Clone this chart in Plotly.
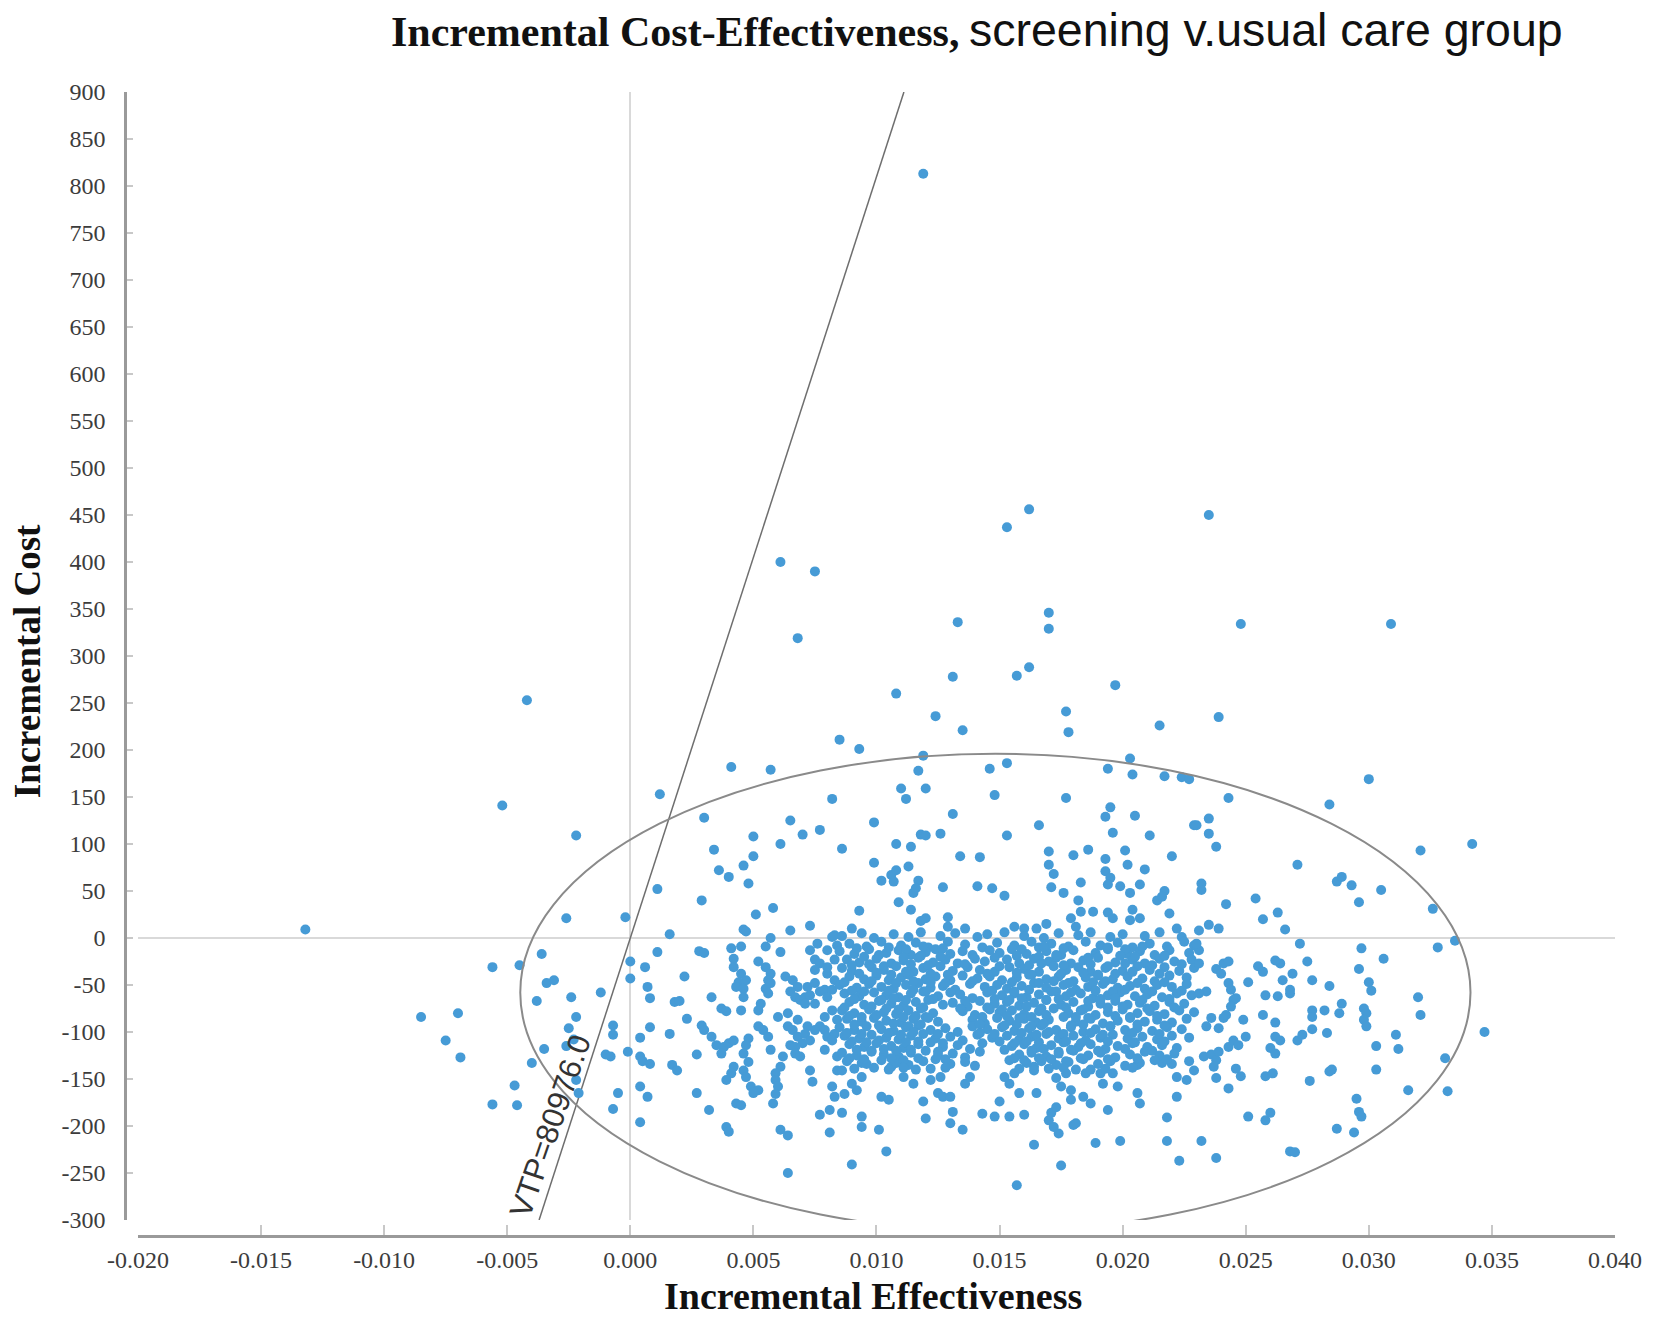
import plotly.graph_objects as go

# ---------------- data ----------------
wtp = 80976.0

x_tick_vals = [-0.020, -0.015, -0.010, -0.005, 0.000, 0.005, 0.010, 0.015, 0.020, 0.025, 0.030, 0.035, 0.040]
x_tick_text = ["-0.020", "-0.015", "-0.010", "-0.005", "0.000", "0.005", "0.010", "0.015", "0.020", "0.025", "0.030", "0.035", "0.040"]
y_tick_vals = list(range(-300, 901, 50))
y_tick_text = [str(v) for v in y_tick_vals]

upper_pts = [(0.0119, 813), (0.0061, 400), (0.0075, 390), (0.0068, 319), (0.0153, 437), (0.0162, 456),
             (0.0235, 450), (0.0170, 346), (0.0170, 329), (0.0133, 336), (0.0248, 334), (0.0309, 334),
             (0.0131, 278), (0.0157, 279), (0.0162, 288)]

left_pts = [(-0.0132, 9), (-0.0085, -84), (-0.0075, -109), (-0.0070, -80), (-0.0069, -127)]

zone_a_pos = [(-0.0042, 253), (-0.0052, 141), (-0.0022, 109), (0.0012, 153), (0.0041, 182), (0.0057, 179),
              (0.0082, 148), (0.0085, 211), (0.0030, 128), (0.0065, 125), (0.0070, 110), (0.0077, 115),
              (0.0050, 108), (0.0061, 100), (0.0034, 94), (0.0050, 87), (0.0046, 77), (0.0036, 72),
              (0.0040, 65), (0.0048, 58), (0.0011, 52), (0.0029, 40), (0.0051, 25), (0.0058, 32),
              (-0.0026, 21), (-0.0002, 22), (0.0046, 9), (0.0073, 13), (0.0065, 8), (0.0016, 4), (0.0083, 3)]

zone_a_neg_left = [(-0.0056, -31), (-0.0045, -29), (-0.0036, -17), (-0.0034, -48), (-0.0031, -45), (-0.0038, -67),
                   (-0.0024, -63), (-0.0012, -58), (-0.0022, -84), (-0.0025, -96), (-0.0035, -118), (-0.0040, -133),
                   (-0.0026, -115), (-0.0023, -108), (-0.0022, -151), (-0.0021, -165), (-0.0047, -157), (-0.0056, -177),
                   (-0.0046, -178), (-0.0007, -93), (-0.0007, -103), (-0.0010, -124), (-0.0008, -126), (-0.0005, -165),
                   (-0.0007, -182), (0.0000, -25), (0.0000, -43), (0.0006, -31), (0.0007, -52), (0.0008, -64),
                   (0.0011, -15), (0.0008, -95), (0.0004, -106), (-0.0001, -121), (0.0004, -126), (0.0005, -131),
                   (0.0008, -134), (0.0004, -158), (0.0007, -169), (0.0004, -196), (0.0016, -102), (0.0017, -135),
                   (0.0019, -141), (0.0022, -41), (0.0018, -68), (0.0020, -67), (0.0023, -86), (0.0027, -165),
                   (0.0027, -124), (0.0032, -183)]

zone_a_neg_right = [(0.0047, 7), (0.0057, 0), (0.0055, -9), (0.0041, -11), (0.0045, -9), (0.0061, -15), (0.0073, -13),
                    (0.0076, -6), (0.0080, -13), (0.0028, -14), (0.0030, -16), (0.0082, 1), (0.0084, -8), (0.0042, -22),
                    (0.0052, -25), (0.0055, -31), (0.0075, -23), (0.0077, -27), (0.0080, -31), (0.0083, -23),
                    (0.0042, -31), (0.0045, -38), (0.0057, -38), (0.0047, -45), (0.0044, -47), (0.0056, -45),
                    (0.0063, -41), (0.0066, -45), (0.0068, -52), (0.0072, -52), (0.0075, -48), (0.0075, -34),
                    (0.0080, -38), (0.0055, -54), (0.0057, -48), (0.0043, -52), (0.0046, -54), (0.0065, -57),
                    (0.0077, -57), (0.0079, -55), (0.0082, -55), (0.0083, -45), (0.0033, -63), (0.0046, -63),
                    (0.0056, -59), (0.0067, -63), (0.0071, -63), (0.0073, -61), (0.0053, -70), (0.0052, -77),
                    (0.0069, -66), (0.0071, -70), (0.0075, -70), (0.0080, -63), (0.0037, -75), (0.0039, -78),
                    (0.0045, -77), (0.0082, -77), (0.0064, -80), (0.0060, -84), (0.0079, -84), (0.0029, -93),
                    (0.0052, -94), (0.0054, -98), (0.0064, -94), (0.0066, -98), (0.0068, -87), (0.0072, -94),
                    (0.0077, -94), (0.0084, -87), (0.0030, -98), (0.0033, -105), (0.0056, -105), (0.0068, -105),
                    (0.0070, -112), (0.0071, -102), (0.0073, -109), (0.0075, -98), (0.0079, -98), (0.0080, -105),
                    (0.0083, -102), (0.0035, -114), (0.0038, -116), (0.0040, -112), (0.0042, -109), (0.0048, -107),
                    (0.0047, -114), (0.0065, -114), (0.0067, -116), (0.0082, -109), (0.0057, -119), (0.0037, -123),
                    (0.0046, -123), (0.0062, -126), (0.0067, -123), (0.0069, -126), (0.0079, -119), (0.0084, -126),
                    (0.0061, -137), (0.0042, -137), (0.0048, -132), (0.0059, -144), (0.0041, -144), (0.0046, -141),
                    (0.0073, -141), (0.0084, -141), (0.0039, -151), (0.0047, -148), (0.0059, -151), (0.0049, -158),
                    (0.0052, -162), (0.0050, -165), (0.0060, -158), (0.0059, -166), (0.0074, -153), (0.0082, -158),
                    (0.0083, -169), (0.0043, -176), (0.0045, -178), (0.0058, -176), (0.0077, -188), (0.0081, -183),
                    (0.0061, -204), (0.0064, -210), (0.0081, -207), (0.0039, -201), (0.0040, -206), (0.0064, -250)]

mid_pos = [(0.0108, 260), (0.0124, 236), (0.0135, 221), (0.0093, 201), (0.0119, 194), (0.0117, 178), (0.0146, 180),
           (0.0153, 186), (0.0177, 241), (0.0178, 219), (0.0197, 269), (0.0215, 226), (0.0203, 191), (0.0194, 180),
           (0.0204, 174), (0.0217, 172), (0.0224, 171), (0.0227, 169), (0.0110, 159), (0.0112, 148), (0.0120, 159),
           (0.0148, 152), (0.0177, 149), (0.0195, 139), (0.0193, 129), (0.0205, 130), (0.0229, 120), (0.0131, 132),
           (0.0099, 123), (0.0166, 120), (0.0196, 112), (0.0211, 109), (0.0118, 110), (0.0120, 109), (0.0126, 111),
           (0.0153, 109), (0.0086, 95), (0.0108, 100), (0.0114, 97), (0.0134, 87), (0.0142, 86), (0.0170, 92),
           (0.0180, 88), (0.0186, 94), (0.0193, 84), (0.0201, 93), (0.0220, 87), (0.0099, 80), (0.0113, 76),
           (0.0108, 72), (0.0106, 67), (0.0107, 60), (0.0102, 61), (0.0117, 61), (0.0115, 48), (0.0116, 53),
           (0.0127, 54), (0.0141, 55), (0.0147, 53), (0.0152, 45), (0.0170, 78), (0.0172, 68), (0.0171, 54),
           (0.0176, 48), (0.0183, 59), (0.0182, 40), (0.0193, 71), (0.0195, 64), (0.0194, 57), (0.0199, 55),
           (0.0202, 78), (0.0209, 73), (0.0207, 57), (0.0203, 48), (0.0217, 50), (0.0214, 40), (0.0219, 26),
           (0.0222, 10), (0.0216, 44), (0.0109, 38), (0.0114, 30), (0.0118, 18), (0.0120, 21), (0.0093, 29),
           (0.0129, 22), (0.0129, 12), (0.0179, 21), (0.0183, 28), (0.0188, 28), (0.0194, 27), (0.0196, 21),
           (0.0204, 30), (0.0203, 19), (0.0207, 21), (0.0090, 10), (0.0136, 10), (0.0156, 12), (0.0160, 10),
           (0.0165, 10), (0.0169, 15), (0.0181, 12)]

mid_low = [(0.0090, -241), (0.0104, -227), (0.0101, -204), (0.0094, -190), (0.0094, -201), (0.0086, -186),
           (0.0119, -174), (0.0120, -192), (0.0130, -197), (0.0135, -204), (0.0131, -185), (0.0143, -187),
           (0.0148, -190), (0.0154, -190), (0.0160, -188), (0.0150, -174), (0.0157, -263), (0.0164, -220),
           (0.0175, -242), (0.0170, -194), (0.0172, -201), (0.0174, -208), (0.0171, -186), (0.0173, -180),
           (0.0180, -199), (0.0181, -197), (0.0189, -218), (0.0199, -216), (0.0194, -183), (0.0206, -165),
           (0.0207, -176), (0.0218, -191), (0.0218, -216), (0.0223, -237), (0.0222, -169), (0.0184, -169),
           (0.0187, -176), (0.0179, -172), (0.0179, -162), (0.0158, -165), (0.0165, -165), (0.0154, -155),
           (0.0125, -165), (0.0127, -169), (0.0130, -169), (0.0102, -169), (0.0105, -172), (0.0094, -148),
           (0.0092, -162), (0.0090, -155), (0.0087, -166), (0.0086, -141), (0.0222, -148), (0.0226, -151),
           (0.0173, -149), (0.0175, -158), (0.0177, -144), (0.0115, -155), (0.0111, -148), (0.0122, -151),
           (0.0126, -148), (0.0136, -155), (0.0138, -148), (0.0152, -148), (0.0156, -144), (0.0164, -137),
           (0.0181, -140), (0.0185, -144), (0.0191, -144), (0.0192, -155), (0.0196, -144), (0.0198, -158),
           (0.0229, -141), (0.0106, -137), (0.0094, -133), (0.0206, -135), (0.0216, -133)]

core_top = [(0.0086, 2), (0.0094, 5), (0.0099, 0), (0.0107, 4), (0.0113, 1), (0.0118, 6), (0.0126, 2), (0.0132, 5),
            (0.0141, 1), (0.0145, 4), (0.0152, 6), (0.0160, 2), (0.0168, 0), (0.0174, 5), (0.0182, 3), (0.0187, 6),
            (0.0195, 1), (0.0200, 4), (0.0209, 2), (0.0215, 6), (0.0224, 1),
            (0.0089, -6), (0.0096, -9), (0.0102, -4), (0.0110, -8), (0.0116, -5), (0.0121, -10), (0.0129, -4),
            (0.0136, -7), (0.0143, -10), (0.0149, -5), (0.0156, -8), (0.0163, -4), (0.0166, -10), (0.0171, -6),
            (0.0178, -9), (0.0185, -4), (0.0191, -8), (0.0198, -5), (0.0204, -10), (0.0211, -6), (0.0218, -9),
            (0.0225, -4), (0.0229, -8),
            (0.0085, -14), (0.0091, -17), (0.0097, -12), (0.0104, -16), (0.0109, -13), (0.0114, -18), (0.0120, -15),
            (0.0124, -12), (0.0130, -17), (0.0135, -14), (0.0139, -18), (0.0146, -13), (0.0150, -16), (0.0155, -12),
            (0.0161, -17), (0.0169, -14), (0.0175, -18), (0.0180, -13), (0.0189, -16), (0.0194, -12), (0.0202, -17),
            (0.0207, -14), (0.0213, -18), (0.0219, -13), (0.0227, -16),
            (0.0088, -23), (0.0093, -26), (0.0100, -22), (0.0106, -27), (0.0111, -24), (0.0117, -21), (0.0123, -26),
            (0.0128, -23), (0.0133, -27), (0.0140, -22), (0.0144, -25), (0.0153, -23), (0.0158, -27), (0.0164, -22),
            (0.0170, -25), (0.0173, -21), (0.0179, -27), (0.0184, -24), (0.0190, -21), (0.0197, -26), (0.0204, -23),
            (0.0209, -27), (0.0215, -22), (0.0221, -25), (0.0228, -23),
            (0.0086, -32), (0.0090, -35), (0.0098, -31), (0.0103, -34), (0.0108, -30), (0.0115, -36), (0.0119, -32),
            (0.0126, -30), (0.0131, -35), (0.0137, -31), (0.0142, -34), (0.0148, -36), (0.0154, -31), (0.0160, -33),
            (0.0166, -36), (0.0172, -30), (0.0177, -34), (0.0182, -31), (0.0187, -36), (0.0193, -32), (0.0200, -35),
            (0.0206, -30), (0.0211, -34), (0.0217, -31), (0.0223, -35), (0.0229, -32)]

core_mid = [(0.0089, -41), (0.0095, -44), (0.0100, -40), (0.0105, -45), (0.0110, -42), (0.0113, -39), (0.0120, -44),
            (0.0124, -41), (0.0130, -45), (0.0135, -40), (0.0141, -43), (0.0146, -41), (0.0151, -45), (0.0157, -42),
            (0.0162, -39), (0.0169, -44), (0.0174, -41), (0.0180, -46), (0.0185, -42), (0.0190, -40), (0.0196, -44),
            (0.0202, -41), (0.0208, -43), (0.0213, -46), (0.0219, -40), (0.0226, -42),
            (0.0085, -50), (0.0092, -53), (0.0097, -49), (0.0102, -52), (0.0107, -54), (0.0112, -50), (0.0117, -48),
            (0.0122, -53), (0.0127, -51), (0.0132, -55), (0.0138, -49), (0.0144, -52), (0.0149, -50), (0.0153, -54),
            (0.0159, -51), (0.0164, -48), (0.0169, -53), (0.0176, -50), (0.0181, -55), (0.0186, -52), (0.0192, -49),
            (0.0198, -53), (0.0203, -51), (0.0209, -54), (0.0214, -50), (0.0220, -52), (0.0226, -49),
            (0.0087, -59), (0.0093, -62), (0.0099, -58), (0.0104, -61), (0.0109, -63), (0.0114, -59), (0.0119, -57),
            (0.0125, -62), (0.0134, -60), (0.0139, -64), (0.0145, -58), (0.0151, -61), (0.0156, -59), (0.0161, -63),
            (0.0166, -60), (0.0171, -57), (0.0177, -62), (0.0183, -59), (0.0188, -64), (0.0194, -61), (0.0199, -58),
            (0.0205, -62), (0.0210, -60), (0.0216, -63), (0.0222, -59), (0.0228, -61),
            (0.0089, -68), (0.0095, -71), (0.0101, -67), (0.0106, -70), (0.0111, -72), (0.0116, -68), (0.0121, -66),
            (0.0127, -71), (0.0131, -69), (0.0137, -73), (0.0142, -67), (0.0148, -70), (0.0153, -68), (0.0158, -72),
            (0.0164, -69), (0.0169, -66), (0.0175, -71), (0.0180, -68), (0.0186, -73), (0.0191, -70), (0.0197, -67),
            (0.0202, -71), (0.0207, -69), (0.0213, -72), (0.0219, -68), (0.0225, -70),
            (0.0086, -77), (0.0091, -80), (0.0097, -76), (0.0103, -79), (0.0108, -81), (0.0113, -77), (0.0118, -75),
            (0.0123, -80), (0.0135, -78), (0.0140, -82), (0.0146, -76), (0.0150, -79), (0.0155, -77), (0.0160, -81),
            (0.0166, -78), (0.0172, -75), (0.0178, -80), (0.0183, -77), (0.0189, -82), (0.0194, -79), (0.0200, -76),
            (0.0206, -80), (0.0211, -78), (0.0217, -81), (0.0223, -77), (0.0229, -79)]

core_low = [(0.0088, -86), (0.0094, -89), (0.0099, -85), (0.0104, -88), (0.0110, -90), (0.0115, -86), (0.0120, -84),
            (0.0125, -89), (0.0139, -87), (0.0144, -91), (0.0149, -85), (0.0154, -88), (0.0160, -86), (0.0165, -90),
            (0.0170, -87), (0.0176, -84), (0.0181, -89), (0.0187, -86), (0.0192, -91), (0.0198, -88), (0.0203, -85),
            (0.0209, -89), (0.0214, -87), (0.0220, -90), (0.0226, -86),
            (0.0085, -95), (0.0091, -98), (0.0096, -94), (0.0102, -97), (0.0107, -99), (0.0112, -95), (0.0117, -93),
            (0.0122, -98), (0.0128, -96), (0.0133, -100), (0.0139, -94), (0.0145, -97), (0.0151, -95), (0.0156, -99),
            (0.0162, -96), (0.0167, -93), (0.0173, -98), (0.0179, -95), (0.0184, -100), (0.0189, -97), (0.0195, -94),
            (0.0201, -98), (0.0206, -96), (0.0212, -99), (0.0218, -95), (0.0224, -97),
            (0.0087, -104), (0.0093, -107), (0.0098, -103), (0.0104, -106), (0.0109, -108), (0.0114, -104),
            (0.0119, -102), (0.0124, -107), (0.0130, -105), (0.0135, -109), (0.0141, -103), (0.0147, -106),
            (0.0153, -104), (0.0158, -108), (0.0163, -105), (0.0169, -102), (0.0174, -107), (0.0180, -104),
            (0.0185, -109), (0.0191, -106), (0.0196, -103), (0.0202, -107), (0.0208, -105), (0.0214, -108),
            (0.0220, -104), (0.0227, -106),
            (0.0089, -113), (0.0095, -116), (0.0100, -112), (0.0106, -115), (0.0111, -117), (0.0117, -113),
            (0.0122, -111), (0.0127, -116), (0.0133, -114), (0.0138, -118), (0.0143, -112), (0.0155, -115),
            (0.0160, -113), (0.0165, -117), (0.0171, -114), (0.0176, -111), (0.0182, -116), (0.0187, -113),
            (0.0193, -118), (0.0198, -115), (0.0204, -112), (0.0210, -116), (0.0216, -114), (0.0222, -117),
            (0.0086, -122), (0.0092, -125), (0.0098, -121), (0.0103, -124), (0.0109, -126), (0.0114, -122),
            (0.0120, -120), (0.0125, -125), (0.0131, -123), (0.0136, -127), (0.0142, -121), (0.0158, -124),
            (0.0163, -122), (0.0169, -126), (0.0174, -123), (0.0180, -120), (0.0186, -125), (0.0191, -122),
            (0.0197, -127), (0.0203, -124), (0.0209, -121), (0.0215, -125), (0.0221, -123),
            (0.0088, -131), (0.0096, -134), (0.0102, -130), (0.0108, -133), (0.0113, -135), (0.0119, -131),
            (0.0124, -129), (0.0130, -134), (0.0136, -132), (0.0140, -136), (0.0154, -130), (0.0161, -133),
            (0.0167, -131), (0.0173, -135), (0.0178, -132), (0.0184, -129), (0.0190, -134), (0.0195, -131),
            (0.0201, -136), (0.0207, -133), (0.0213, -130), (0.0220, -134), (0.0227, -131)]

core_fill_a = [(0.0092, -11), (0.0105, -10), (0.0112, -12), (0.0119, -9), (0.0127, -11), (0.0159, -12), (0.0168, -9),
               (0.0176, -11), (0.0194, -10), (0.0201, -12), (0.0208, -9),
               (0.0095, -20), (0.0101, -18), (0.0111, -21), (0.0118, -19), (0.0126, -20), (0.0148, -21), (0.0157, -19),
               (0.0166, -20), (0.0173, -18), (0.0186, -21), (0.0199, -19), (0.0205, -20), (0.0217, -19),
               (0.0090, -29), (0.0097, -28), (0.0103, -30), (0.0114, -28), (0.0121, -29), (0.0136, -28), (0.0150, -30),
               (0.0162, -29), (0.0167, -27), (0.0176, -29), (0.0187, -28), (0.0194, -30), (0.0201, -27), (0.0212, -29),
               (0.0224, -28),
               (0.0093, -38), (0.0100, -37), (0.0106, -39), (0.0112, -36), (0.0122, -38), (0.0129, -39), (0.0145, -38),
               (0.0157, -37), (0.0163, -39), (0.0175, -38), (0.0184, -37), (0.0190, -39), (0.0197, -38), (0.0204, -36),
               (0.0215, -38),
               (0.0087, -47), (0.0098, -46), (0.0108, -48), (0.0115, -46), (0.0122, -47), (0.0128, -48), (0.0139, -46),
               (0.0155, -47), (0.0166, -48), (0.0172, -46), (0.0178, -48), (0.0188, -47), (0.0193, -46), (0.0206, -48),
               (0.0217, -47),
               (0.0090, -56), (0.0095, -57), (0.0105, -56), (0.0115, -55), (0.0120, -57), (0.0130, -58), (0.0147, -56),
               (0.0156, -57), (0.0162, -55), (0.0173, -57), (0.0179, -58), (0.0189, -56), (0.0196, -57), (0.0201, -55),
               (0.0212, -57), (0.0224, -56),
               (0.0091, -65), (0.0102, -66), (0.0107, -64), (0.0112, -66), (0.0123, -65), (0.0136, -67), (0.0148, -65),
               (0.0154, -66), (0.0159, -64), (0.0169, -66), (0.0174, -65), (0.0186, -67), (0.0191, -65), (0.0197, -64),
               (0.0208, -66), (0.0219, -65)]

core_fill_b = [(0.0087, -74), (0.0098, -73), (0.0104, -75), (0.0109, -76), (0.0119, -74), (0.0134, -75), (0.0145, -74),
               (0.0151, -76), (0.0161, -73), (0.0167, -75), (0.0177, -74), (0.0184, -76), (0.0194, -74), (0.0200, -73),
               (0.0210, -75), (0.0221, -74),
               (0.0089, -83), (0.0094, -84), (0.0100, -82), (0.0111, -84), (0.0116, -83), (0.0121, -85), (0.0143, -84),
               (0.0153, -83), (0.0158, -85), (0.0163, -84), (0.0169, -82), (0.0181, -84), (0.0186, -85), (0.0197, -83),
               (0.0203, -84), (0.0214, -83),
               (0.0091, -92), (0.0101, -93), (0.0107, -91), (0.0113, -94), (0.0118, -92), (0.0142, -92), (0.0152, -93),
               (0.0157, -92), (0.0163, -94), (0.0168, -91), (0.0179, -93), (0.0184, -92), (0.0195, -94), (0.0206, -92),
               (0.0217, -93),
               (0.0088, -101), (0.0094, -102), (0.0105, -101), (0.0110, -103), (0.0115, -100), (0.0125, -102),
               (0.0142, -101), (0.0148, -102), (0.0159, -101), (0.0165, -103), (0.0170, -100), (0.0176, -102),
               (0.0187, -101), (0.0192, -103), (0.0204, -101), (0.0215, -102),
               (0.0090, -110), (0.0096, -111), (0.0101, -109), (0.0112, -111), (0.0117, -110), (0.0127, -112),
               (0.0150, -110), (0.0156, -112), (0.0161, -110), (0.0166, -111), (0.0177, -110), (0.0183, -112),
               (0.0194, -110), (0.0205, -111), (0.0217, -110),
               (0.0092, -119), (0.0098, -120), (0.0103, -118), (0.0108, -120), (0.0114, -119), (0.0125, -121),
               (0.0152, -119), (0.0163, -120), (0.0168, -118), (0.0174, -121), (0.0179, -119), (0.0190, -120),
               (0.0201, -118), (0.0212, -120),
               (0.0089, -128), (0.0095, -129), (0.0106, -128), (0.0111, -130), (0.0117, -128), (0.0128, -129),
               (0.0156, -128), (0.0160, -130), (0.0166, -128), (0.0171, -129), (0.0177, -131), (0.0183, -128),
               (0.0194, -129), (0.0206, -128), (0.0218, -129),
               (0.0091, -139), (0.0099, -138), (0.0105, -140), (0.0111, -138), (0.0116, -140), (0.0122, -139),
               (0.0128, -138), (0.0158, -139), (0.0164, -141), (0.0170, -139), (0.0176, -138), (0.0187, -140),
               (0.0193, -139), (0.0204, -138)]

right_pos = [(0.0239, 235), (0.0300, 169), (0.0284, 142), (0.0243, 149), (0.0235, 127), (0.0230, 120), (0.0235, 111),
             (0.0238, 97), (0.0342, 100), (0.0321, 93), (0.0271, 78), (0.0232, 58), (0.0232, 51), (0.0287, 60),
             (0.0289, 65), (0.0293, 56), (0.0305, 51), (0.0296, 38), (0.0254, 42), (0.0242, 36), (0.0257, 20),
             (0.0263, 27), (0.0266, 9), (0.0326, 31), (0.0335, -3), (0.0235, 14), (0.0239, 10), (0.0231, 8)]

right_neg = [(0.0272, -6), (0.0297, -11), (0.0306, -22), (0.0328, -10), (0.0275, -25), (0.0296, -33), (0.0300, -47),
             (0.0301, -56), (0.0284, -51), (0.0277, -45), (0.0320, -63), (0.0321, -82), (0.0289, -70), (0.0288, -80),
             (0.0282, -77), (0.0277, -77), (0.0277, -84), (0.0298, -75), (0.0299, -80), (0.0298, -87), (0.0299, -94),
             (0.0347, -100), (0.0311, -103), (0.0303, -115), (0.0312, -118), (0.0331, -128), (0.0332, -163),
             (0.0303, -140), (0.0316, -162), (0.0295, -171), (0.0296, -185), (0.0297, -190), (0.0287, -203),
             (0.0294, -207), (0.0268, -227), (0.0270, -228), (0.0238, -234), (0.0232, -216), (0.0251, -190),
             (0.0258, -194), (0.0260, -186), (0.0243, -160), (0.0238, -149), (0.0258, -147), (0.0261, -144),
             (0.0276, -152), (0.0284, -142), (0.0285, -140), (0.0246, -139), (0.0248, -147), (0.0233, -126),
             (0.0236, -124), (0.0238, -130), (0.0237, -137), (0.0239, -121), (0.0243, -116), (0.0245, -109),
             (0.0247, -114), (0.0250, -105), (0.0260, -117), (0.0262, -123), (0.0262, -105), (0.0264, -109),
             (0.0271, -109), (0.0273, -103), (0.0277, -97), (0.0283, -101), (0.0257, -82), (0.0262, -90),
             (0.0249, -87), (0.0241, -85), (0.0242, -82), (0.0236, -85), (0.0234, -94), (0.0239, -96),
             (0.0245, -66), (0.0246, -64), (0.0244, -73), (0.0258, -61), (0.0263, -62), (0.0268, -59),
             (0.0268, -55), (0.0251, -47), (0.0265, -45), (0.0269, -38), (0.0264, -27), (0.0262, -24),
             (0.0255, -30), (0.0257, -36), (0.0238, -33), (0.0241, -27), (0.0243, -25), (0.0240, -38),
             (0.0243, -48), (0.0244, -55), (0.0234, -57), (0.0231, -59), (0.0231, -27), (0.0231, -13), (0.0230, -6)]

# confidence ellipse bounding box (data units) and WTP label position
ellipse_x = (-0.00447, 0.03413)
ellipse_y = (-312, 196)
wtp_label = "VTP=80976.0"
wtp_label_pos = (-0.00324, -201)

# ---------------- figure ----------------
groups = [upper_pts, left_pts, zone_a_pos, zone_a_neg_left, zone_a_neg_right, mid_pos, mid_low,
          core_top, core_mid, core_low, core_fill_a, core_fill_b, right_pos, right_neg]
all_pts = [p for g in groups for p in g]
xs = [p[0] for p in all_pts]
ys = [p[1] for p in all_pts]

SERIF = "Liberation Serif"
SANS = "Liberation Sans"

fig = go.Figure()

fig.add_trace(go.Scatter(
    x=[-300 / wtp, 900 / wtp], y=[-300, 900], mode="lines",
    line=dict(color="#6e6e6e", width=1.5), hoverinfo="skip", showlegend=False))

fig.add_trace(go.Scatter(
    x=xs, y=ys, mode="markers",
    marker=dict(color="#469bd6", size=10, line=dict(width=0)),
    showlegend=False, cliponaxis=True))

fig.add_shape(type="circle", xref="x", yref="y",
              x0=ellipse_x[0], x1=ellipse_x[1], y0=ellipse_y[0], y1=ellipse_y[1],
              line=dict(color="#8a8a8a", width=2), layer="above")

W, H = 1654, 1320
ML, MR, MT, MB = 125, 34, 92, 84
pw, ph = W - ML - MR, H - MT - MB


def px(xo):
    return (xo - ML) / pw


def py(yo):
    return (H - MB - yo) / ph


fig.update_layout(
    width=W, height=H,
    margin=dict(l=ML, r=MR, t=MT, b=MB, pad=0),
    paper_bgcolor="white", plot_bgcolor="white",
    xaxis=dict(range=[-0.020, 0.040], domain=[px(138), 1], anchor="free", position=0,
               tickvals=x_tick_vals, ticktext=x_tick_text,
               showgrid=False, zeroline=True, zerolinecolor="#d9d9d9", zerolinewidth=2,
               showline=True, linecolor="#9a9a9a", linewidth=2.5,
               ticks="inside", ticklen=10, tickcolor="#c8c8c8", tickwidth=1.5,
               ticklabelstandoff=1,
               tickfont=dict(family=SERIF, size=24, color="#3c3c3c")),
    yaxis=dict(range=[-300, 900], domain=[1 - (1220 - MT) / ph, 1], anchor="free", position=0,
               tickvals=y_tick_vals, ticktext=y_tick_text,
               showgrid=False, zeroline=True, zerolinecolor="#d9d9d9", zerolinewidth=2,
               showline=True, linecolor="#9a9a9a", linewidth=2.5,
               ticks="inside", ticklen=6, tickcolor="#c8c8c8", tickwidth=1.5,
               ticklabelstandoff=14,
               tickfont=dict(family=SERIF, size=24, color="#3c3c3c")),
    annotations=[
        dict(text="<b>Incremental Cost-Effectiveness,</b>", xref="paper", yref="paper",
             x=px(390), y=py(32), xanchor="left", yanchor="middle", showarrow=False,
             font=dict(family=SERIF, size=42, color="#111111")),
        dict(text="screening v.usual care group", xref="paper", yref="paper",
             x=px(970), y=py(30), xanchor="left", yanchor="middle", showarrow=False,
             font=dict(family=SANS, size=46.5, color="#111111")),
        dict(text="<b>Incremental Effectiveness</b>", xref="paper", yref="paper",
             x=px(876), y=py(1296), xanchor="center", yanchor="middle", showarrow=False,
             font=dict(family=SERIF, size=38, color="#111111")),
        dict(text="<b>Incremental Cost</b>", xref="paper", yref="paper",
             x=px(27), y=py(661), xanchor="center", yanchor="middle", showarrow=False,
             textangle=-90, font=dict(family=SERIF, size=37, color="#111111")),
        dict(text=wtp_label, xref="x", yref="y", x=wtp_label_pos[0], y=wtp_label_pos[1],
             xanchor="center", yanchor="middle", showarrow=False, textangle=-71,
             font=dict(family=SANS, size=31, color="#333333")),
    ],
)

fig.write_html("out.html", include_plotlyjs=True, full_html=True,
               config={"displayModeBar": False},
               post_script="document.body.style.margin='0';document.body.style.overflow='hidden';")
